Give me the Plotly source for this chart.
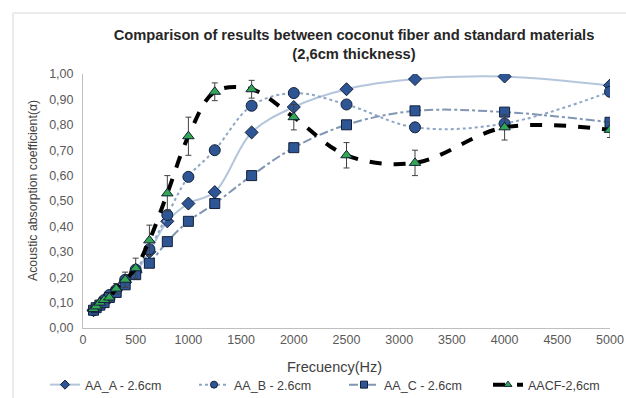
import plotly.graph_objects as go

freq = [100, 125, 160, 200, 250, 315, 400, 500, 630, 800, 1000, 1250, 1600, 2000, 2500, 3150, 4000, 5000]
aa_a = [0.07, 0.08, 0.09, 0.10, 0.12, 0.15, 0.18, 0.22, 0.30, 0.42, 0.49, 0.535, 0.77, 0.87, 0.94, 0.98, 0.99, 0.955]
aa_b = [0.07, 0.08, 0.09, 0.11, 0.13, 0.15, 0.19, 0.23, 0.31, 0.445, 0.595, 0.70, 0.875, 0.925, 0.88, 0.79, 0.805, 0.93]
aa_c = [0.07, 0.08, 0.09, 0.10, 0.12, 0.14, 0.17, 0.21, 0.255, 0.34, 0.42, 0.49, 0.60, 0.71, 0.80, 0.855, 0.85, 0.81]
aacf = [0.075, 0.085, 0.10, 0.11, 0.12, 0.155, 0.19, 0.235, 0.345, 0.53, 0.755, 0.93, 0.94, 0.83, 0.68, 0.65, 0.79, 0.78]
aacf_err = [0.01, 0.01, 0.01, 0.01, 0.015, 0.02, 0.03, 0.04, 0.06, 0.07, 0.075, 0.035, 0.035, 0.05, 0.05, 0.05, 0.05, 0.03]

names = ["AA_A - 2.6cm", "AA_B - 2.6cm", "AA_C - 2.6cm", "AACF-2,6cm"]
title_text = "<b>Comparison of results between coconut fiber and standard materials<br>(2,6cm thickness)</b>"
x_title = "Frecuency(Hz)"
y_title = "Acoustic absorption coefficient(α)"

FONT = "Liberation Sans, Arial, sans-serif"
MFILL = "#2e5594"
MLINE = "#13203a"

W, H = 626, 398
ML, MR, MT, MB = 83, 16, 74, 70
PW, PH = W - ML - MR, H - MT - MB

styles = [
    dict(line=dict(color="#b4c6dc", width=2), symbol="diamond", size=10, mcolor=MFILL),
    dict(line=dict(color="#8da6c6", width=2, dash="dot"), symbol="circle", size=11, mcolor=MFILL),
    dict(line=dict(color="#8196b4", width=2, dash="dashdot"), symbol="square", size=10, mcolor=MFILL),
    dict(line=dict(color="#000000", width=4, dash="dash"), symbol="triangle-up", size=10, mcolor="#33a853"),
]
series = [aa_a, aa_b, aa_c, aacf]
legend_ids = ["legend", "legend2", "legend3", "legend4"]
legend_px = [51, 200, 350, 494]

fig = go.Figure()
for i, (nm, ys, st) in enumerate(zip(names, series, styles)):
    ln = dict(st["line"], shape="spline", smoothing=1)
    kw = {}
    if i == 3:
        kw["error_y"] = dict(type="data", array=aacf_err, visible=True, color="#404040", thickness=1, width=3)
    fig.add_trace(go.Scatter(
        x=freq, y=ys, name=nm, mode="lines+markers", line=ln, showlegend=False,
        legendgroup=nm,
        marker=dict(symbol=st["symbol"], size=st["size"], color=st["mcolor"], line=dict(color=MLINE, width=1)),
        **kw))
# legend-only entries with small markers
for i, (nm, st) in enumerate(zip(names, styles)):
    fig.add_trace(go.Scatter(
        x=[None], y=[None], name=nm, mode="lines+markers", legendgroup=nm,
        legend=legend_ids[i], line=st["line"],
        marker=dict(symbol=st["symbol"], size=7, color=st["mcolor"], line=dict(color=MLINE, width=1))))

layout_legends = {}
for i, lid in enumerate(legend_ids):
    layout_legends[lid] = dict(
        orientation="h", x=(legend_px[i] - 6 - ML) / PW, xanchor="left",
        y=(H - MB - 385) / PH, yanchor="middle",
        font=dict(family=FONT, size=12.5, color="#404040"), bgcolor="rgba(0,0,0,0)",
        itemwidth=30)

fig.update_layout(
    width=W, height=H,
    margin=dict(l=ML, r=MR, t=MT, b=MB, autoexpand=False),
    paper_bgcolor="white", plot_bgcolor="white",
    separators=",.",
    font=dict(family=FONT, size=12, color="#595959"),
    title=dict(
        text=title_text,
        x=354 / W, xanchor="center", xref="container",
        y=1 - 40 / H, yanchor="middle", yref="container",
        font=dict(family=FONT, size=14.7, color="#262626")),
    xaxis=dict(
        range=[0, 5000], dtick=500, tick0=0, showgrid=False, zeroline=False,
        showline=True, linecolor="#bfbfbf", linewidth=1, ticks="",
        tickfont=dict(size=12.5, color="#595959")),
    yaxis=dict(
        range=[0, 1.0], dtick=0.1, tickformat=".2f", showgrid=False, zeroline=False,
        showline=True, linecolor="#bfbfbf", linewidth=1, ticks="",
        ticklabelstandoff=6,
        tickfont=dict(size=12.5, color="#595959")),
    showlegend=True,
    annotations=[
        dict(text=x_title, xref="paper", yref="paper", x=(334 - ML) / PW, y=(H - MB - 367) / PH,
             xanchor="center", yanchor="middle", showarrow=False,
             font=dict(family=FONT, size=14.5, color="#404040")),
        dict(text=y_title, xref="paper", yref="paper", x=(33 - ML) / PW, y=(H - MB - 191) / PH,
             xanchor="center", yanchor="middle", showarrow=False, textangle=-90,
             font=dict(family=FONT, size=12.3, color="#404040")),
    ],
    shapes=[dict(type="rect", xref="paper", yref="paper",
                 x0=(13 - ML) / PW, x1=(660 - ML) / PW,
                 y0=(H - MB - 420) / PH, y1=(H - MB - 13) / PH,
                 line=dict(color="#d9d9d9", width=1), fillcolor="rgba(0,0,0,0)", layer="below")],
    **layout_legends,
)

fig.write_html("out.html")
